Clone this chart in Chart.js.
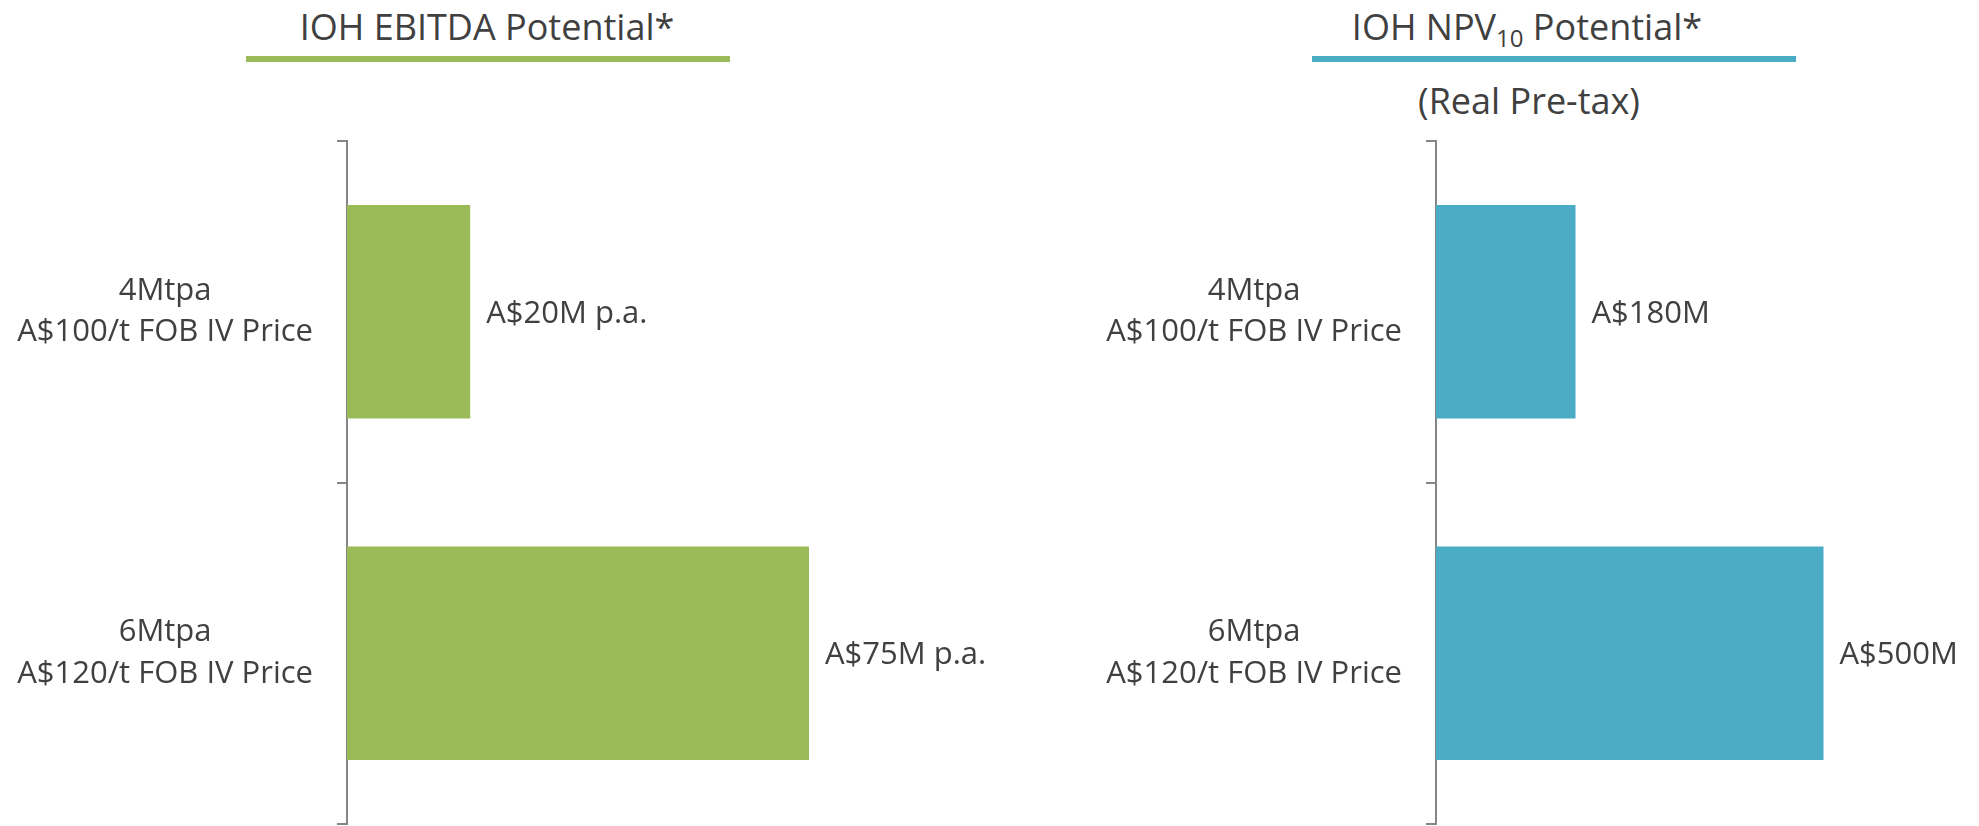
<!DOCTYPE html>
<html>
<head>
<meta charset="utf-8">
<script src="https://cdn.jsdelivr.net/npm/chart.js@4.4.1/dist/chart.umd.min.js"></script>
<style>
  html, body { margin: 0; padding: 0; background: #ffffff; }
  body { width: 1979px; height: 826px; position: relative; overflow: hidden; font-family: "Open Sans", sans-serif; color: #404040; }
  canvas { position: absolute; top: 0; }
  #c1 { left: 0; }
  #c2 { left: 1000px; }
  .title { position: absolute; width: 600px; text-align: center; font-size: 36px; line-height: normal; color: #404040; white-space: nowrap; }
  .title sub { font-size: 24px; vertical-align: -7px; line-height: 0; }
  .rule { position: absolute; height: 6px; top: 56px; }
</style>
</head>
<body>
<div class="title" style="left:187px; top:2px;">IOH EBITDA Potential*</div>
<div class="rule" style="left:246px; width:484px; background:#9BBB59;"></div>
<div class="title" style="left:1227px; top:2px;">IOH NPV<sub>10</sub> Potential*</div>
<div class="rule" style="left:1312px; width:484px; background:#4BACC6;"></div>
<div class="title" style="left:1229px; top:76px;">(Real Pre-tax)</div>
<canvas id="c1" width="1000" height="826"></canvas>
<canvas id="c2" width="979" height="826"></canvas>
<script>
// ---- data ----
const categories = [["4Mtpa", "A$100/t FOB IV Price"], ["6Mtpa", "A$120/t FOB IV Price"]];
const ebitdaValues = [20, 75];      // A$M p.a.
const ebitdaLabels = ["A$20M p.a.", "A$75M p.a."];
const npvValues = [180, 500];       // A$M
const npvLabels = ["A$180M", "A$500M"];

const TEXT = "#404040";
const AXIS = "#868686";
const FONT = "'Open Sans', sans-serif";

const valueLabelPlugin = {
  id: "valueLabels",
  afterDatasetsDraw(chart, args, opts) {
    const ctx = chart.ctx;
    const meta = chart.getDatasetMeta(0);
    ctx.save();
    ctx.font = "31px " + FONT;
    ctx.fillStyle = TEXT;
    ctx.textAlign = "left";
    ctx.textBaseline = "middle";
    meta.data.forEach((el, i) => {
      ctx.fillText(opts.labels[i], el.x + 16, el.y + 2);
    });
    ctx.restore();
  }
};

function makeChart(id, values, labels, color, xMax, axisWidth, padRight) {
  return new Chart(document.getElementById(id), {
    type: "bar",
    data: {
      labels: categories,
      datasets: [{
        data: values,
        backgroundColor: color,
        borderWidth: 0,
        barPercentage: 0.625,
        categoryPercentage: 1.0
      }]
    },
    options: {
      indexAxis: "y",
      responsive: false,
      animation: false,
      layout: { padding: { top: 141, bottom: 2, left: 0, right: padRight } },
      plugins: {
        legend: { display: false },
        tooltip: { enabled: false },
        valueLabels: { labels: labels }
      },
      scales: {
        x: { display: false, min: 0, max: xMax },
        y: {
          afterFit(scale) { scale.width = axisWidth; scale.paddingTop = 0; scale.paddingBottom = 0; },
          border: { display: true, color: AXIS, width: 2 },
          grid: { drawOnChartArea: false, drawTicks: true, tickLength: 10, color: AXIS, lineWidth: 2, offset: true },
          ticks: {
            crossAlign: "center",
            padding: 24,
            color: TEXT,
            font: { family: FONT, size: 31, lineHeight: 1.33 }
          }
        }
      }
    },
    plugins: [valueLabelPlugin]
  });
}

makeChart("c1", ebitdaValues, ebitdaLabels, "#9BBB59", 100, 347, 37);
makeChart("c2", npvValues, npvLabels, "#4BACC6", 600, 436, 78);
</script>
</body>
</html>
